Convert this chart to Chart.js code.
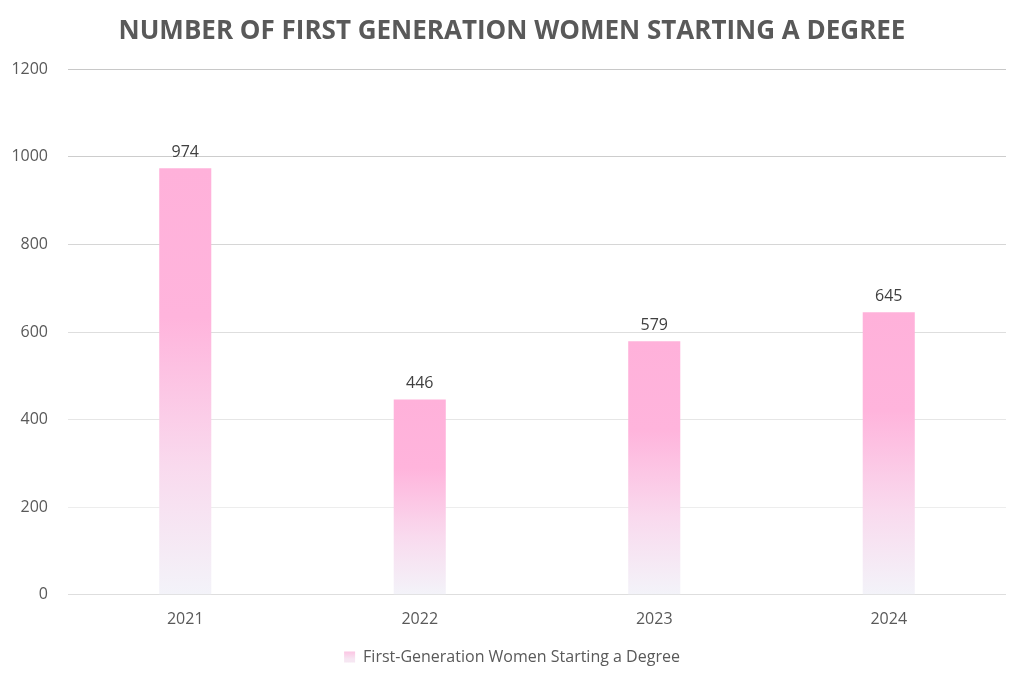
<!DOCTYPE html>
<html>
<head>
<meta charset="utf-8">
<script src="https://cdn.jsdelivr.net/npm/chart.js@4"></script>
<style>
  html, body { margin: 0; padding: 0; background: #ffffff; }
  #wrap { width: 1024px; height: 682px; }
</style>
</head>
<body>
<div id="wrap"><canvas id="chart"></canvas></div>
<script>
const categories = ["2021", "2022", "2023", "2024"];
const values = [974, 446, 579, 645];
const seriesName = "First-Generation Women Starting a Degree";
const titleText = "NUMBER OF FIRST GENERATION WOMEN STARTING A DEGREE";

const font = "'Open Sans', sans-serif";
const textGray = "#595959";

// each bar gets its own gradient: solid pink on top, fading to pale at the base
function barGradient(c) {
  const chart = c.chart;
  if (!chart.scales.y || c.raw === undefined) return "#ffb3db";
  const top = chart.scales.y.getPixelForValue(c.raw);
  const base = chart.scales.y.getPixelForValue(0);
  if (!isFinite(top) || !isFinite(base) || top === base) return "#ffb3db";
  const g = chart.ctx.createLinearGradient(0, top, 0, base);
  g.addColorStop(0, "#ffb1da");
  g.addColorStop(0.35, "#ffb4dc");
  g.addColorStop(0.7, "#f9daee");
  g.addColorStop(1, "#f3f3f9");
  return g;
}

function legendGradient(ctx) {
  const g = ctx.createLinearGradient(0, 647, 0, 659);
  g.addColorStop(0, "#ffb1da");
  g.addColorStop(1, "#f6e6f2");
  return g;
}

const gridColors = {
  1200: "#c8c8c8",
  1000: "#cdcdcd",
  800: "#d6d6d6",
  600: "#dedede",
  400: "#e6e6e6",
  200: "#ededed",
  0: "#dedede"
};

const valueLabels = {
  id: "valueLabels",
  afterDatasetsDraw(chart) {
    const ctx = chart.ctx;
    const meta = chart.getDatasetMeta(0);
    ctx.save();
    ctx.font = "16px " + font;
    ctx.fillStyle = "#404040";
    ctx.textAlign = "center";
    ctx.textBaseline = "bottom";
    meta.data.forEach((bar, i) => {
      ctx.fillText(String(values[i]), bar.x, bar.y - 8);
    });
    ctx.restore();
  }
};

const chart = new Chart(document.getElementById("chart"), {
  type: "bar",
  data: {
    labels: categories,
    datasets: [{
      label: seriesName,
      data: values,
      backgroundColor: barGradient,
      borderWidth: 0,
      barPercentage: 0.222,
      categoryPercentage: 1
    }]
  },
  options: {
    responsive: true,
    maintainAspectRatio: false,
    animation: false,
    layout: { padding: { left: 10, right: 10, top: 8, bottom: 7 } },
    plugins: {
      title: {
        display: true,
        text: titleText,
        color: textGray,
        font: { family: font, size: 26, weight: "bold" },
        padding: { top: 8, bottom: 22 }
      },
      legend: {
        position: "bottom",
        labels: {
          color: textGray,
          font: { family: font, size: 16 },
          boxWidth: 11,
          boxHeight: 11,
          padding: 13,
          generateLabels(chart) {
            return [{
              text: seriesName,
              fillStyle: legendGradient(chart.ctx),
              strokeStyle: "rgba(0,0,0,0)",
              lineWidth: 0,
              datasetIndex: 0,
              fontColor: textGray
            }];
          }
        }
      },
      tooltip: { enabled: false }
    },
    scales: {
      x: {
        grid: { display: false },
        border: { display: false },
        ticks: {
          color: textGray,
          font: { family: font, size: 16 },
          padding: 7
        }
      },
      y: {
        min: 0,
        max: 1200,
        afterFit: (scale) => { scale.width = 58; },
        ticks: {
          stepSize: 200,
          color: textGray,
          font: { family: font, size: 16 },
          padding: 20,
          callback: (v) => String(v)
        },
        border: { display: false },
        grid: {
          drawTicks: false,
          color: (c) => gridColors[c.tick.value] || "#e0e0e0",
          lineWidth: 1
        }
      },
      // empty right-hand spacer so the title and legend stay centred on the page
      spacer: {
        type: "linear",
        position: "right",
        grid: { display: false },
        border: { display: false },
        ticks: { display: false },
        afterFit: (scale) => { scale.width = 8; }
      }
    }
  },
  plugins: [valueLabels]
});
</script>
</body>
</html>
